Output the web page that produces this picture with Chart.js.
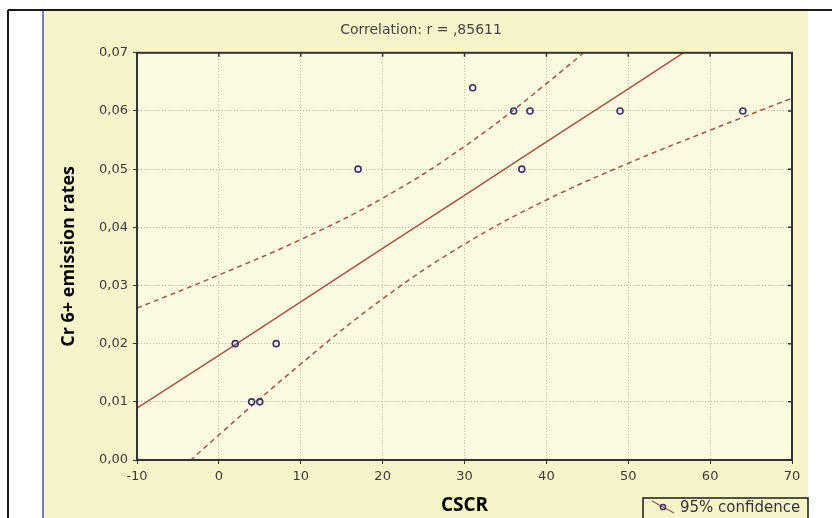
<!DOCTYPE html>
<html>
<head>
<meta charset="utf-8">
<script src="https://cdn.jsdelivr.net/npm/chart.js@4.4.1/dist/chart.umd.min.js"></script>
<style>
  html, body { margin: 0; padding: 0; background: #ffffff; }
  #wrap { width: 832px; height: 518px; position: relative; }
</style>
</head>
<body>
<div id="wrap"><canvas id="chart" width="832" height="518"></canvas></div>
<script>
// observed samples
const cscr = [2, 7, 4, 5, 17, 31, 36, 38, 37, 49, 64];
const cr6 = [0.020, 0.020, 0.010, 0.010, 0.050, 0.064, 0.060, 0.060, 0.050, 0.060, 0.060];

// fitted line and 95% band, read at the x ticks
const fitX = [-10, 0, 10, 20, 30, 40, 50, 60, 70];
const fitLine = [0.0089, 0.0180, 0.0272, 0.0364, 0.0455, 0.0547, 0.0638, 0.0730, 0.0822];
const upper95 = [0.0261, 0.0318, 0.0379, 0.0450, 0.0539, 0.0647, 0.0767, 0.0893, 0.1021];
const lower95 = [-0.0084, 0.0043, 0.0165, 0.0277, 0.0371, 0.0447, 0.0510, 0.0567, 0.0622];

const titleText = 'Correlation: r = ,85611';
const legendText = '95% confidence';

const lineColor = '#a3534a';
const dotColor = '#3b2f6e';
const gridColor = '#b9b8a4';
const tickFont = {family: 'DejaVu Sans', size: 13};

const toXY = (xs, ys) => xs.map((x, i) => ({x: x, y: ys[i]}));

// page frame, plot background, top/right border, legend box
const framePlugin = {
    id: 'frame',
    beforeDraw(chart) {
        const {ctx, chartArea: a} = chart;
        ctx.save();
        ctx.fillStyle = '#ffffff';
        ctx.fillRect(0, 0, chart.width, chart.height);
        ctx.fillStyle = '#f8f4c9';
        ctx.fillRect(44, 11, 764, chart.height - 11);
        ctx.fillStyle = '#fdfbdf';
        ctx.fillRect(a.left, a.top, a.right - a.left, a.bottom - a.top);
        ctx.strokeStyle = '#1a1a1a';
        ctx.lineWidth = 2;
        ctx.beginPath();
        ctx.moveTo(8, 10);
        ctx.lineTo(chart.width, 10);
        ctx.moveTo(8, 10);
        ctx.lineTo(8, chart.height);
        ctx.stroke();
        ctx.strokeStyle = '#7d7bb9';
        ctx.beginPath();
        ctx.moveTo(43, 11);
        ctx.lineTo(43, chart.height);
        ctx.stroke();
        ctx.restore();
    },
    afterDraw(chart) {
        const {ctx, chartArea: a, scales} = chart;
        ctx.save();
        ctx.setLineDash([]);
        ctx.strokeStyle = '#333333';
        ctx.lineWidth = 2;
        ctx.strokeRect(a.left, a.top, a.right - a.left, a.bottom - a.top);
        // small inner tick marks on top and right edges
        ctx.lineWidth = 1.5;
        ctx.beginPath();
        scales.x.ticks.forEach((t) => {
            const px = scales.x.getPixelForValue(t.value);
            ctx.moveTo(px, a.top);
            ctx.lineTo(px, a.top + 4);
        });
        scales.y.ticks.forEach((t) => {
            const py = scales.y.getPixelForValue(t.value);
            ctx.moveTo(a.right, py);
            ctx.lineTo(a.right - 4, py);
        });
        ctx.stroke();

        // legend box
        const bx = 643, by = 498, bw = 165, bh = 24;
        ctx.lineWidth = 1.5;
        ctx.strokeStyle = '#1a1a1a';
        ctx.strokeRect(bx, by, bw, bh);
        ctx.strokeStyle = lineColor;
        ctx.lineWidth = 1.2;
        ctx.beginPath();
        ctx.moveTo(bx + 9, by + 3);
        ctx.lineTo(bx + 31, by + 15);
        ctx.stroke();
        ctx.strokeStyle = dotColor;
        ctx.lineWidth = 1.5;
        ctx.beginPath();
        ctx.arc(bx + 20, by + 9, 2.6, 0, Math.PI * 2);
        ctx.stroke();
        ctx.fillStyle = '#333333';
        ctx.font = '15px "DejaVu Sans"';
        ctx.textBaseline = 'middle';
        ctx.fillText(legendText, bx + 37, by + 10);
        ctx.restore();
    }
};

new Chart(document.getElementById('chart'), {
    type: 'scatter',
    data: {
        datasets: [
            {
                label: 'samples',
                data: toXY(cscr, cr6),
                pointStyle: 'circle',
                pointRadius: 3,
                pointBorderWidth: 1.6,
                pointBorderColor: dotColor,
                pointBackgroundColor: 'rgba(0,0,0,0)',
                showLine: false,
            },
            {
                label: 'fit',
                data: toXY(fitX, fitLine),
                showLine: true,
                borderColor: lineColor,
                borderWidth: 1.5,
                pointRadius: 0,
            },
            {
                label: legendText,
                data: toXY(fitX, upper95),
                showLine: true,
                borderColor: lineColor,
                borderWidth: 1.5,
                borderDash: [5, 4],
                tension: 0.4,
                pointRadius: 0,
            },
            {
                label: legendText + ' lower',
                data: toXY(fitX, lower95),
                showLine: true,
                borderColor: lineColor,
                borderWidth: 1.5,
                borderDash: [5, 4],
                tension: 0.4,
                pointRadius: 0,
            },
        ],
    },
    options: {
        responsive: false,
        animation: false,
        devicePixelRatio: 1,
        layout: {
            padding: {left: 50, right: 40, top: 14, bottom: 0},
        },
        plugins: {
            legend: {display: false},
            tooltip: {enabled: false},
            title: {
                display: true,
                text: titleText,
                color: '#444444',
                font: {family: 'DejaVu Sans', size: 14, weight: 'normal'},
                padding: {top: 8, bottom: 14},
            },
        },
        scales: {
            x: {
                type: 'linear',
                min: -10,
                max: 70,
                afterFit: (scale) => { scale.height = 58; },
                ticks: {
                    stepSize: 10,
                    color: '#3a3a3a',
                    font: tickFont,
                    padding: 5,
                    maxRotation: 0,
                },
                grid: {
                    color: gridColor,
                    lineWidth: 1,
                    tickColor: '#333333',
                    tickLength: 4,
                    tickBorderDash: [],
                },
                border: {color: '#333333', width: 2, dash: [1, 2]},
                title: {
                    display: true,
                    text: 'CSCR',
                    color: '#000000',
                    font: {family: 'Open Sans', size: 19, weight: 'bold'},
                    padding: {top: 0, bottom: 1},
                },
            },
            y: {
                type: 'linear',
                min: 0,
                max: 0.07,
                afterFit: (scale) => { scale.width = 87; },
                ticks: {
                    stepSize: 0.01,
                    color: '#3a3a3a',
                    font: tickFont,
                    padding: 5,
                    callback: (v) => v.toFixed(2).replace('.', ','),
                },
                grid: {
                    color: gridColor,
                    lineWidth: 1,
                    tickColor: '#333333',
                    tickLength: 4,
                    tickBorderDash: [],
                },
                border: {color: '#333333', width: 2, dash: [1, 2]},
                title: {
                    display: true,
                    text: 'Cr 6+ emission rates',
                    color: '#000000',
                    font: {family: 'Open Sans', size: 18, weight: 'bold'},
                    padding: {top: 8, bottom: 0},
                },
            },
        },
    },
    plugins: [framePlugin],
});
</script>
</body>
</html>
